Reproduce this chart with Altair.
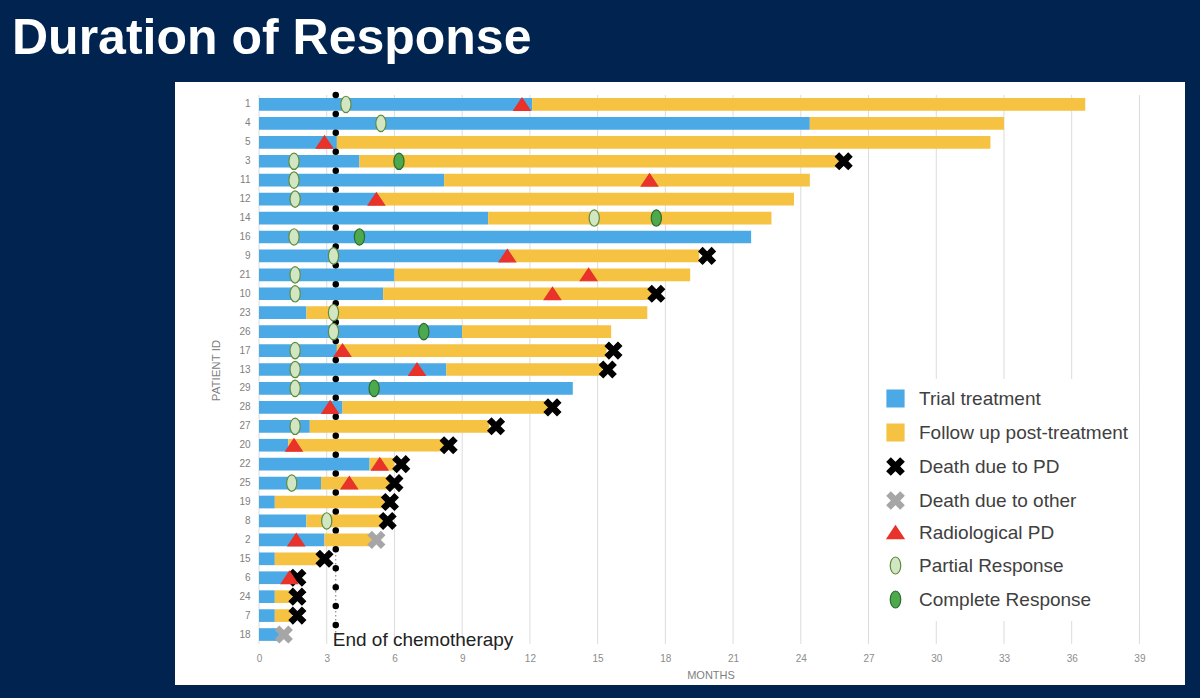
import altair as alt
import pandas as pd

# ---------------- data ----------------
patients = ["1", "4", "5", "3", "11", "12", "14", "16", "9", "21", "10", "23", "26", "17",
            "13", "29", "28", "27", "20", "22", "25", "19", "8", "2", "15", "6", "24", "7", "18"]
trial_end = [12.1, 24.4, 3.45, 4.45, 8.2, 5.2, 10.15, 21.8, 11.1, 6.0, 5.5, 2.1, 9.0, 3.45,
             8.3, 13.9, 3.7, 2.25, 1.3, 4.9, 2.75, 0.7, 2.1, 2.9, 0.7, 1.35, 0.7, 0.7, 0.9]
follow_end = [36.6, 33.0, 32.4, 25.7, 24.4, 23.7, 22.7, 21.8, 19.5, 19.1, 17.4, 17.2, 15.6, 15.4,
              15.2, 13.9, 12.8, 10.2, 8.2, 6.0, 5.8, 5.6, 5.5, 5.0, 2.7, 1.6, 1.45, 1.45, 0.9]

death_pd_patients = ["3", "9", "10", "17", "13", "28", "27", "20", "22", "25", "19", "8", "15", "6", "24", "7"]
death_pd_months = [25.9, 19.85, 17.6, 15.7, 15.45, 13.0, 10.5, 8.4, 6.3, 6.0, 5.8, 5.7, 2.9, 1.7, 1.7, 1.7]
death_other_patients = ["2", "18"]
death_other_months = [5.2, 1.1]
rad_pd_patients = ["1", "5", "11", "12", "9", "21", "10", "17", "13", "28", "20", "22", "25", "2", "6"]
rad_pd_months = [11.65, 2.9, 17.3, 5.2, 11.0, 14.6, 13.0, 3.7, 7.0, 3.15, 1.55, 5.35, 4.0, 1.65, 1.35]
pr_patients = ["1", "4", "3", "11", "12", "14", "16", "9", "21", "10", "23", "26", "17", "13", "29", "27", "25", "8"]
pr_months = [3.85, 5.4, 1.55, 1.55, 1.6, 14.85, 1.55, 3.3, 1.6, 1.6, 3.3, 3.3, 1.6, 1.6, 1.6, 1.6, 1.45, 3.0]
cr_patients = ["3", "14", "16", "26", "29"]
cr_months = [6.2, 17.6, 4.45, 7.3, 5.1]

chemo_end = 3.4
x_ticks = [0, 3, 6, 9, 12, 15, 18, 21, 24, 27, 30, 33, 36, 39]

legend_labels = ["Trial treatment", "Follow up post-treatment", "Death due to PD",
                 "Death due to other", "Radiological PD", "Partial Response", "Complete Response"]
legend_fill = ["#4BA9E6", "#F5C242", "#000000", "#A6A6A6", "#E8322A", "#D3E6C3", "#4CAA4C"]
legend_stroke = ["#4BA9E6", "#F5C242", "#000000", "#A6A6A6", "#E8322A", "#5E8C3E", "#2F6B2F"]

X_PATH = "M-1,-0.55L-0.55,-1L0,-0.45L0.55,-1L1,-0.55L0.45,0L1,0.55L0.55,1L0,0.45L-0.55,1L-1,0.55L-0.45,0Z"
TRI_PATH = "M0,-0.78L1,0.72L-1,0.72Z"
ELL_PATH = "M0,-1A0.62,1,0,1,1,0,1A0.62,1,0,1,1,0,-1Z"
legend_shapes = ["square", "square", X_PATH, X_PATH, TRI_PATH, ELL_PATH, ELL_PATH]

# ---------------- tables ----------------
bar_rows = []
for p, t, f in zip(patients, trial_end, follow_end):
    bar_rows.append({"patient": p, "start": 0.0, "end": t, "Legend": legend_labels[0]})
    if f > t:
        bar_rows.append({"patient": p, "start": t, "end": f, "Legend": legend_labels[1]})
bars_df = pd.DataFrame(bar_rows)

ev_rows = []
for pts, ms, lab in [(death_pd_patients, death_pd_months, legend_labels[2]),
                     (death_other_patients, death_other_months, legend_labels[3]),
                     (rad_pd_patients, rad_pd_months, legend_labels[4]),
                     (pr_patients, pr_months, legend_labels[5]),
                     (cr_patients, cr_months, legend_labels[6])]:
    for p, m in zip(pts, ms):
        ev_rows.append({"patient": p, "month": m, "Legend": lab})
ev_df = pd.DataFrame(ev_rows)

chemo_df = pd.DataFrame({"patient": patients, "x": [chemo_end] * len(patients)})
chemo_line_df = pd.DataFrame({"x": [chemo_end]})
chemo_text_df = pd.DataFrame({"x": [chemo_end], "patient": [patients[-1]], "label": ["End of chemotherapy"]})
grid_df = pd.DataFrame({"t": x_ticks})
one_df = pd.DataFrame({"a": [0]})

# ---------------- scales ----------------
FONT = "Liberation Sans"
xscale = alt.Scale(domain=[0, 40], nice=False, zero=True)
yscale = alt.Scale(domain=patients, paddingInner=0.33, paddingOuter=0.165)
color_scale = alt.Scale(domain=legend_labels, range=legend_fill)
shape_scale = alt.Scale(domain=legend_labels, range=legend_shapes)
stroke_scale = alt.Scale(domain=legend_labels, range=legend_stroke)

legend_def = alt.Legend(title=None, orient="none", legendX=617, legendY=284,
                        labelFontSize=19, labelColor="#404040", labelFont=FONT,
                        symbolSize=289, symbolStrokeWidth=1.2, rowPadding=11,
                        labelOffset=14, padding=10, fillColor="white", labelLimit=400)

x_axis = alt.Axis(values=x_ticks, grid=False, domain=False, ticks=False, labelFontSize=10,
                  labelColor="#8c8c8c", labelPadding=9, labelFlush=False, labelFont=FONT,
                  title="MONTHS", titleFontSize=11, titleFontWeight="normal", titleColor="#808080",
                  titleFont=FONT, titleY=31, titleBaseline="middle", zindex=1)
y_axis = alt.Axis(grid=False, domain=False, ticks=False, labelFontSize=10, labelColor="#808080",
                  labelPadding=9, labelFont=FONT, title="PATIENT ID", titleFontSize=11.5,
                  titleFontWeight="normal", titleColor="#808080", titleFont=FONT,
                  titleX=-43, titleY=275, titleBaseline="middle", zindex=1)

# ---------------- layers ----------------
panel = alt.Chart(one_df).mark_rect(color="white").encode(
    x=alt.value(-84), x2=alt.value(926), y=alt.value(-13), y2=alt.value(590))

grid = alt.Chart(grid_df).mark_rule(color="#dcdcdc", strokeWidth=1).encode(
    x=alt.X("t:Q", scale=xscale, axis=x_axis))

chemo_line = alt.Chart(chemo_line_df).mark_rule(color="#777777", strokeWidth=1, strokeDash=[1.5, 2.5]).encode(
    x=alt.X("x:Q", scale=xscale, axis=x_axis))

bars = alt.Chart(bars_df).mark_bar().encode(
    x=alt.X("start:Q", scale=xscale, axis=x_axis),
    x2="end:Q",
    y=alt.Y("patient:N", scale=yscale, axis=y_axis),
    color=alt.Color("Legend:N", scale=color_scale, legend=legend_def),
)

chemo_dots = alt.Chart(chemo_df).mark_circle(color="black", size=42, opacity=1, yOffset=-9.5).encode(
    x=alt.X("x:Q", scale=xscale, axis=x_axis),
    y=alt.Y("patient:N", scale=yscale, axis=y_axis),
)

events = alt.Chart(ev_df).mark_point(filled=True, size=270, opacity=1, strokeWidth=1.2).encode(
    x=alt.X("month:Q", scale=xscale, axis=x_axis),
    y=alt.Y("patient:N", scale=yscale, axis=y_axis),
    color=alt.Color("Legend:N", scale=color_scale, legend=legend_def),
    shape=alt.Shape("Legend:N", scale=shape_scale, legend=legend_def),
    stroke=alt.Stroke("Legend:N", scale=stroke_scale, legend=legend_def),
)

chemo_text = alt.Chart(chemo_text_df).mark_text(
    align="left", baseline="alphabetic", dx=-3, dy=11.5, fontSize=19, color="#222222", font=FONT
).encode(
    x=alt.X("x:Q", scale=xscale, axis=x_axis),
    y=alt.Y("patient:N", scale=yscale, axis=y_axis),
    text="label:N",
)

title = alt.Chart(one_df).mark_text(
    align="left", baseline="alphabetic", fontSize=50, fontWeight="bold", color="white", font=FONT
).encode(x=alt.value(-247), y=alt.value(-41.5), text=alt.value("Duration of Response"))

chart = alt.layer(panel, grid, chemo_line, bars, chemo_dots, events, chemo_text, title).properties(
    width=903, height=549,
    autosize=alt.AutoSizeParams(type="none"),
    padding={"left": 259, "top": 95, "right": 38, "bottom": 54},
).configure(background="#00244F", font=FONT).configure_view(stroke=None)

chart.save("out.html", embed_options={"renderer": "svg", "actions": False})
